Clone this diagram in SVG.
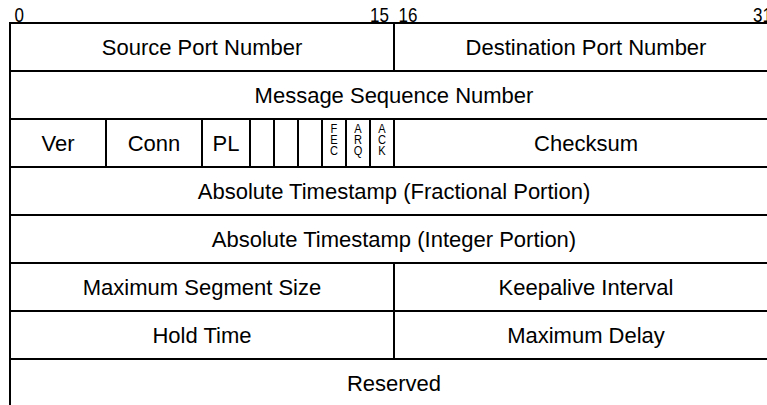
<svg xmlns="http://www.w3.org/2000/svg" width="767" height="405" viewBox="0 0 767 405">
<style>
.ln{stroke:#000;stroke-width:2;fill:none}
.t{font-family:"Liberation Sans",Arial,sans-serif;font-size:22px;fill:#000;text-anchor:middle}
.h{font-family:"Liberation Sans",Arial,sans-serif;font-size:20px;fill:#000}
.s{font-family:"Liberation Sans",Arial,sans-serif;font-size:13.5px;fill:#000;text-anchor:middle}
</style>
<rect width="767" height="405" fill="#fff"/>
<g id="header">
<text class="h" transform="translate(14.5,21.8) scale(0.85,1)">0</text>
<text class="h" transform="translate(389,21.8) scale(0.85,1)" text-anchor="end">15</text>
<text class="h" transform="translate(398.5,21.8) scale(0.85,1)">16</text>
<text class="h" transform="translate(753,21.8) scale(0.85,1)">31</text>
</g>
<g id="connectors">
<path class="ln" d="M10 23H767M10 71H767M10 119H767M10 167H767M10 215H767M10 263H767M10 311H767M10 359H767"/>
<path class="ln" d="M10 22V405"/>
<path class="ln" d="M394 23V71M394 263V359"/>
<path class="ln" d="M106 119V167M202 119V167M250 119V167M274 119V167M298 119V167M322 119V167M346 119V167M370 119V167M394 119V167"/>
</g>
<g id="src"><text class="t" x="202" y="54.8">Source Port Number</text></g>
<g id="dst"><text class="t" x="586" y="54.8">Destination Port Number</text></g>
<g id="seq"><text class="t" x="394" y="102.8">Message Sequence Number</text></g>
<g id="ver"><text class="t" x="58" y="150.8">Ver</text></g>
<g id="conn"><text class="t" x="154" y="150.8">Conn</text></g>
<g id="pl"><text class="t" x="226" y="150.8">PL</text></g>
<g id="fec"><text class="s" transform="translate(334,133) scale(0.82,1)" x="0" y="0">F<tspan x="0" dy="11">E</tspan><tspan x="0" dy="11">C</tspan></text></g>
<g id="arq"><text class="s" transform="translate(358,133) scale(0.82,1)" x="0" y="0">A<tspan x="0" dy="11">R</tspan><tspan x="0" dy="11">Q</tspan></text></g>
<g id="ack"><text class="s" transform="translate(382,133) scale(0.82,1)" x="0" y="0">A<tspan x="0" dy="11">C</tspan><tspan x="0" dy="11">K</tspan></text></g>
<g id="checksum"><text class="t" x="586" y="150.8">Checksum</text></g>
<g id="tsfrac"><text class="t" x="394" y="198.8">Absolute Timestamp (Fractional Portion)</text></g>
<g id="tsint"><text class="t" x="394" y="246.8">Absolute Timestamp (Integer Portion)</text></g>
<g id="mss"><text class="t" x="202" y="294.8">Maximum Segment Size</text></g>
<g id="keep"><text class="t" x="586" y="294.8">Keepalive Interval</text></g>
<g id="hold"><text class="t" x="202" y="342.8">Hold Time</text></g>
<g id="maxdelay"><text class="t" x="586" y="342.8">Maximum Delay</text></g>
<g id="reserved"><text class="t" x="394" y="390.8">Reserved</text></g>
</svg>
